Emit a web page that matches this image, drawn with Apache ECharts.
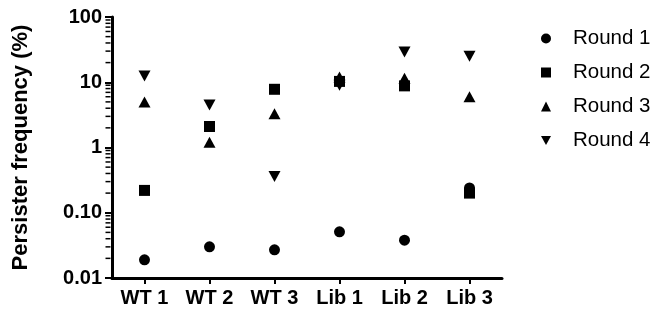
<!DOCTYPE html>
<html><head><meta charset="utf-8">
<script src="https://cdn.jsdelivr.net/npm/echarts@6/dist/echarts.min.js"></script>
<style>html,body{margin:0;padding:0;background:#fff}#c{width:655px;height:312px}</style>
</head><body><div id="c"></div>
<script>
const categories = ['WT 1', 'WT 2', 'WT 3', 'Lib 1', 'Lib 2', 'Lib 3'];
const round1 = [0.019, 0.030, 0.027, 0.051, 0.038, 0.24];
const round2 = [0.22, 2.1, 7.8, 10.3, 8.8, 0.20];
const round3 = [5.0, 1.2, 3.3, 12.0, 11.5, 6.0];
const round4 = [12.5, 4.5, 0.36, 9.0, 29, 25];
const seriesNames = ['Round 1', 'Round 2', 'Round 3', 'Round 4'];
const yTickValues = [0.01, 0.1, 1, 10, 100];
const yTickLabels = ['0.01', '0.10', '1', '10', '100'];
const yMinorTicks = [0.02, 0.03, 0.04, 0.05, 0.06, 0.07, 0.08, 0.09,
  0.2, 0.3, 0.4, 0.5, 0.6, 0.7, 0.8, 0.9,
  2, 3, 4, 5, 6, 7, 8, 9,
  20, 30, 40, 50, 60, 70, 80, 90];

const FONT = "'Liberation Sans', Arial, Helvetica, sans-serif";
const downTri = 'path://M0,0L20,0L10,18Z';
const symbols = ['circle', 'rect', 'triangle', downTri];
const sizes = [11, 11, [12, 11], [12, 11]];
const allData = [round1, round2, round3, round4];

const chart = echarts.init(document.getElementById('c'), null, {renderer: 'canvas'});
const scatterSeries = seriesNames.map((name, i) => ({
  name, type: 'scatter', yAxisIndex: 0, z: 3,
  symbol: symbols[i], symbolSize: sizes[i],
  itemStyle: {color: '#000', opacity: 1},
  data: allData[i]
}));
const minorTickSeries = {
  type: 'custom', name: 'minorTicks', silent: true, clip: false, z: 5,
  data: yMinorTicks.map(v => [0, v]),
  renderItem: (params, api) => {
    const y = api.coord([0, api.value(1)])[1];
    const x = params.coordSys.x - 1.5;
    return {type: 'line', shape: {x1: x - 5, y1: y, x2: x, y2: y},
      style: {stroke: '#000', lineWidth: 1.5}};
  }
};
chart.setOption({
  animation: false,
  backgroundColor: '#fff',
  textStyle: {fontFamily: FONT},
  grid: {left: 112, right: 153, top: 17, bottom: 34, containLabel: false},
  legend: {
    orient: 'vertical', left: 536, top: 23,
    itemWidth: 10, itemHeight: 10, itemGap: 13,
    textStyle: {fontSize: 20.5, color: '#000', fontFamily: FONT, padding: [0, 0, 0, 17]},
    data: seriesNames
  },
  xAxis: {
    type: 'category', data: categories, boundaryGap: true,
    axisLine: {lineStyle: {color: '#000', width: 3}},
    axisTick: {show: true, alignWithLabel: true, length: 6, lineStyle: {color: '#000', width: 2}},
    axisLabel: {color: '#000', fontSize: 20, fontWeight: 'bold', margin: 10, fontFamily: FONT},
    splitLine: {show: false}
  },
  yAxis: [{
    type: 'log', min: 0.01, max: 100, logBase: 10,
    axisLine: {show: true, lineStyle: {color: '#000', width: 3}},
    axisTick: {show: true, length: 7, lineStyle: {color: '#000', width: 2}},
    axisLabel: {color: '#000', fontSize: 20, fontWeight: 'bold', margin: 10, fontFamily: FONT,
      formatter: v => { const i = yTickValues.findIndex(t => Math.abs(t - v) / t < 1e-6); return i >= 0 ? yTickLabels[i] : ''; }},
    splitLine: {show: false},
    name: 'Persister frequency (%)', nameLocation: 'middle', nameGap: 80,
    nameTextStyle: {color: '#000', fontSize: 22, fontWeight: 'bold', fontFamily: FONT}
  }],
  series: scatterSeries.concat([minorTickSeries])
});
</script></body></html>
